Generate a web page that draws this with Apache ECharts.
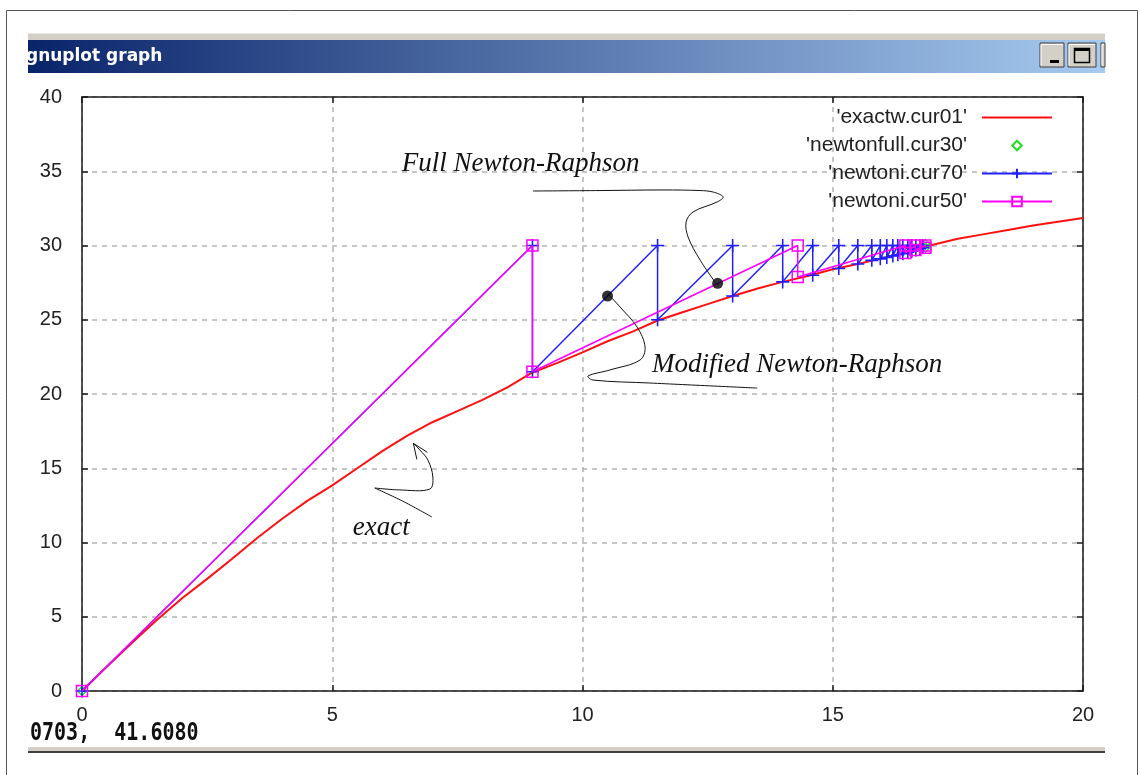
<!DOCTYPE html>
<html>
<head>
<meta charset="utf-8">
<title>gnuplot graph</title>
<script src="https://cdn.jsdelivr.net/npm/echarts@6/dist/echarts.min.js"></script>
<style>
  html, body { margin: 0; padding: 0; background: #ffffff; }
  #chart { width: 1140px; height: 775px; }
</style>
</head>
<body>
<div id="chart"></div>
<script>
// ---- axis ranges -------------------------------------------------------
const xRange = { min: 0, max: 20, step: 5 };
const yRange = { min: 0, max: 40, step: 5 };

// ---- series names ------------------------------------------------------
const seriesNames = ["'exactw.cur01'", "'newtonfull.cur30'", "'newtoni.cur70'", "'newtoni.cur50'"];

// exact load-displacement curve  [displacement, load]
const exactCurve = [
  [0, 0], [0.5, 1.65], [1.0, 3.25], [1.5, 4.8], [2.0, 6.25], [2.5, 7.55],
  [3.0, 8.9], [3.5, 10.3], [4.0, 11.6], [4.5, 12.8], [5.0, 13.85], [5.5, 15.0],
  [6.0, 16.15], [6.5, 17.2], [7.0, 18.1], [7.5, 18.85], [8.0, 19.6], [8.5, 20.45],
  [9.0, 21.45], [9.5, 22.1], [10.0, 22.8], [10.5, 23.55], [11.0, 24.2], [11.5, 24.95],
  [12.0, 25.5], [12.5, 26.05], [13.0, 26.6], [13.5, 27.1], [14.0, 27.55], [14.5, 27.95],
  [15.0, 28.4], [15.5, 28.75], [16.0, 29.15], [16.5, 29.55], [17.0, 30.05], [17.5, 30.45],
  [18.0, 30.75], [18.5, 31.05], [19.0, 31.35], [19.5, 31.6], [20.0, 31.85]
];

// full Newton iterations (converged points only)
const newtonFull = [
  [0, 0], [16.85, 30.1], [16.85, 29.85]
];

// modified Newton, stiffness kept from the start of the step
const newtonCur70 = [
  [0, 0], [9.0, 30], [9.0, 21.5], [11.5, 30], [11.5, 25.0], [13.0, 30], [13.0, 26.6],
  [14.0, 30], [14.0, 27.55], [14.6, 30], [14.6, 28.0], [15.12, 30], [15.12, 28.45],
  [15.5, 30], [15.5, 28.75], [15.78, 30], [15.78, 29.0], [15.95, 30], [15.95, 29.1],
  [16.08, 30], [16.08, 29.2], [16.2, 30], [16.2, 29.3], [16.3, 30], [16.3, 29.38],
  [16.4, 30], [16.4, 29.45], [16.5, 30], [16.5, 29.55], [16.58, 30], [16.58, 29.62],
  [16.66, 30], [16.66, 29.7], [16.74, 30], [16.74, 29.78], [16.8, 30], [16.8, 29.85]
];

// Newton with updated tangent
const newtonCur50 = [
  [0, 0], [9.0, 30], [9.0, 21.5], [14.3, 30], [14.3, 27.88],
  [16.45, 30], [16.45, 29.5], [16.65, 30], [16.65, 29.7], [16.85, 30], [16.85, 29.85]
];

// highlighted points on the two iteration paths
const calloutDots = [[10.5, 26.6], [12.7, 27.45]];

// ---- annotation text and leader lines (in data units) ------------------
const annotationLabels = [
  { text: 'Full Newton-Raphson', at: [6.39, 35.49] },
  { text: 'Modified Newton-Raphson', at: [11.39, 21.95] },
  { text: 'exact', at: [5.41, 10.98] }
];
const leaderFull = [
  [9.01, 33.67], [10.35, 33.70], [11.61, 33.74], [12.35, 33.70], [12.61, 33.60],
  [12.81, 33.27], [12.69, 32.93], [12.21, 32.26], [12.07, 31.58], [12.11, 30.57],
  [12.35, 29.02], [12.69, 27.34]
];
const leaderModified = [
  [10.51, 26.73], [10.75, 25.86], [11.09, 24.51], [11.25, 23.17], [11.15, 22.29],
  [10.55, 21.62], [10.11, 21.21], [10.21, 20.94], [11.35, 20.74], [13.49, 20.40]
];
const arrowTail = [[6.99, 11.72], [6.40, 12.80], [5.85, 13.67]];
const arrowBody = [
  [5.85, 13.67], [6.35, 13.54], [6.95, 13.60], [7.01, 14.41], [6.91, 15.56],
  [6.75, 16.23], [6.62, 16.68]
];
const arrowHead = [[6.90, 16.07], [6.62, 16.68], [6.69, 15.60]];

const chart = echarts.init(document.getElementById('chart'), null, { renderer: 'canvas' });

const axisFont = { fontFamily: 'Liberation Sans', fontSize: 20, color: '#222' };
const frameLine = { show: true, onZero: false, lineStyle: { color: '#1a1a1a', width: 1.5 } };
const innerTick = { show: true, inside: true, length: 6, lineStyle: { color: '#1a1a1a', width: 1.5 } };
const dashedGrid = { show: true, lineStyle: { color: '#b4b4b4', width: 1.5, type: [5, 5] } };

chart.setOption({
  animation: false,
  backgroundColor: '#ffffff',
  grid: { left: 82, right: 57, top: 97, bottom: 84, containLabel: false },
  xAxis: [
    {
      type: 'value', position: 'bottom', min: xRange.min, max: xRange.max, interval: xRange.step,
      axisLine: frameLine, axisTick: innerTick, splitLine: dashedGrid,
      axisLabel: Object.assign({ margin: 14 }, axisFont)
    },
    {
      type: 'value', position: 'top', min: xRange.min, max: xRange.max, interval: xRange.step,
      axisLine: frameLine, axisTick: innerTick, splitLine: { show: false }, axisLabel: { show: false }
    }
  ],
  yAxis: [
    {
      type: 'value', position: 'left', min: yRange.min, max: yRange.max, interval: yRange.step,
      axisLine: frameLine, axisTick: innerTick, splitLine: dashedGrid,
      axisLabel: Object.assign({ margin: 20 }, axisFont)
    },
    {
      type: 'value', position: 'right', min: yRange.min, max: yRange.max, interval: yRange.step,
      axisLine: frameLine, axisTick: innerTick, splitLine: { show: false }, axisLabel: { show: false }
    }
  ],
  legend: {
    data: seriesNames,
    orient: 'vertical',
    align: 'right',
    right: 87,
    top: 107,
    padding: 0,
    itemWidth: 70,
    itemHeight: 12,
    itemGap: 7,
    selectedMode: false,
    textStyle: { fontFamily: 'Liberation Sans', fontSize: 21, color: '#222', lineHeight: 20, padding: [0, 10, 0, 0] }
  },
  series: [
    {
      name: seriesNames[0], type: 'line', data: exactCurve,
      symbol: 'circle', symbolSize: 2, showSymbol: false,
      lineStyle: { color: '#ff1010', width: 2 },
      itemStyle: { color: '#ff1010', opacity: 0 }, z: 2
    },
    {
      // point-only series: the connecting line is switched off
      name: seriesNames[1], type: 'line', data: newtonFull,
      symbol: 'diamond', symbolSize: 9, showSymbol: true, showAllSymbol: true,
      lineStyle: { color: '#22dd22', width: 0, opacity: 0 },
      itemStyle: { color: 'rgba(0,0,0,0)', borderColor: '#22dd22', borderWidth: 1.4 }, z: 3
    },
    {
      name: seriesNames[2], type: 'line', data: newtonCur70,
      symbol: 'path://M0,6H12M6,0V12', symbolSize: 13, showSymbol: true, showAllSymbol: true,
      lineStyle: { color: '#2020ff', width: 1.5 },
      itemStyle: { color: '#2020ff', borderColor: '#2020ff', borderWidth: 1.6 }, z: 4
    },
    {
      name: seriesNames[3], type: 'line', data: newtonCur50,
      symbol: 'rect', symbolSize: 11, showSymbol: true, showAllSymbol: true,
      lineStyle: { color: '#ff00ff', width: 1.5 },
      itemStyle: { color: 'rgba(0,0,0,0)', borderColor: '#ff00ff', borderWidth: 1.5 }, z: 5
    },
    {
      name: 'callouts', type: 'scatter', data: calloutDots,
      symbol: 'circle', symbolSize: 11, silent: true,
      itemStyle: { color: '#000000' }, z: 6
    }
  ]
});

// ---- annotations placed through the grid's coordinate system -----------
const toPx = (p) => chart.convertToPixel({ gridIndex: 0 }, p);
const curve = (pts, smooth) => ({
  type: 'polyline', silent: true, z: 20,
  shape: { points: pts.map(toPx), smooth: smooth },
  style: { stroke: '#111', lineWidth: 1, fill: null }
});

const graphics = [];

// window frame and chrome
graphics.push({ type: 'rect', silent: true, z: 0,
  shape: { x: 6.5, y: 10.5, width: 1131, height: 800 },
  style: { fill: null, stroke: '#555', lineWidth: 1 } });
graphics.push({ type: 'rect', silent: true, z: 1,
  shape: { x: 28, y: 33, width: 1077, height: 7 },
  style: { fill: '#d4d0c8' } });
graphics.push({ type: 'rect', silent: true, z: 1,
  shape: { x: 28, y: 33, width: 1077, height: 1 },
  style: { fill: '#ece9e2' } });
graphics.push({ type: 'rect', silent: true, z: 1,
  shape: { x: 28, y: 40, width: 1077, height: 33 },
  style: { fill: new echarts.graphic.LinearGradient(0, 0, 1, 0, [
    { offset: 0, color: '#0a246a' }, { offset: 1, color: '#a6caf0' }
  ]) } });
graphics.push({ type: 'text', silent: true, z: 2, x: 26, y: 57,
  style: { text: 'gnuplot graph', fontFamily: 'DejaVu Sans', fontWeight: 'bold', fontSize: 17,
    fill: '#ffffff', verticalAlign: 'middle' } });

// caption buttons
[[1040, 24], [1068, 28], [1101, 4]].forEach(([bx, bw]) => {
  graphics.push({ type: 'rect', silent: true, z: 2, shape: { x: bx, y: 43, width: bw, height: 24 },
    style: { fill: '#d4d0c8', stroke: '#404040', lineWidth: 1 } });
  graphics.push({ type: 'polyline', silent: true, z: 3,
    shape: { points: [[bx + 1, 65.5], [bx + 1, 44.5], [bx + bw - 1, 44.5]] },
    style: { stroke: '#ffffff', lineWidth: 1, fill: null } });
});
graphics.push({ type: 'rect', silent: true, z: 4, shape: { x: 1050, y: 60, width: 9, height: 3 },
  style: { fill: '#000' } });
graphics.push({ type: 'rect', silent: true, z: 4, shape: { x: 1074.5, y: 48.5, width: 15, height: 14 },
  style: { fill: null, stroke: '#000', lineWidth: 1.5 } });
graphics.push({ type: 'rect', silent: true, z: 4, shape: { x: 1074, y: 48, width: 16, height: 3 },
  style: { fill: '#000' } });

// status line
graphics.push({ type: 'text', silent: true, z: 2, x: 30, y: 734, scaleY: 1.2,
  style: { text: '0703,  41.6080', fontFamily: 'DejaVu Sans Mono', fontWeight: 'bold', fontSize: 20,
    fill: '#111', verticalAlign: 'middle' } });
graphics.push({ type: 'rect', silent: true, z: 1, shape: { x: 28, y: 747, width: 1077, height: 4 },
  style: { fill: '#d4d0c8' } });
graphics.push({ type: 'rect', silent: true, z: 1, shape: { x: 28, y: 751, width: 1077, height: 2 },
  style: { fill: '#404040' } });

// leader lines
graphics.push(curve(leaderFull, 0.35));
graphics.push(curve(leaderModified, 0.35));
graphics.push(curve(arrowTail, 0.3));
graphics.push(curve(arrowBody, 0.35));
graphics.push(curve(arrowHead, 0));

// italic labels
annotationLabels.forEach((a) => {
  const p = toPx(a.at);
  graphics.push({ type: 'text', silent: true, z: 21, x: p[0], y: p[1],
    style: { text: a.text, fontFamily: 'Liberation Serif', fontStyle: 'italic', fontSize: 27,
      fill: '#111', align: 'left', verticalAlign: 'middle' } });
});

chart.setOption({ graphic: graphics });
</script>
</body>
</html>
